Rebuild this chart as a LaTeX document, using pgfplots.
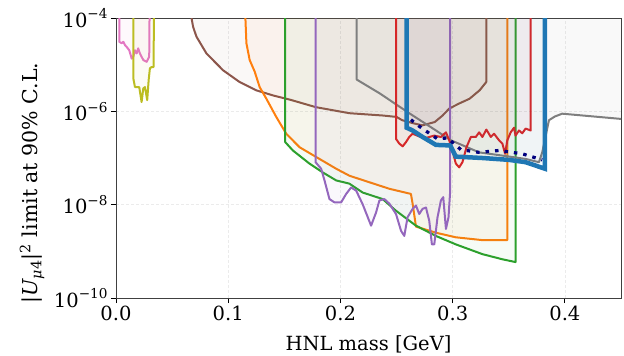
\documentclass[border=0pt]{standalone}
\usepackage{fontspec}
\setmainfont{DejaVu Serif}
\usepackage{pgfplots}
\pgfplotsset{compat=1.18}
\definecolor{tabblue}{HTML}{1F77B4}
\definecolor{taborange}{HTML}{FF7F0E}
\definecolor{tabgreen}{HTML}{2CA02C}
\definecolor{tabred}{HTML}{D62728}
\definecolor{tabpurple}{HTML}{9467BD}
\definecolor{tabbrown}{HTML}{8C564B}
\definecolor{tabpink}{HTML}{E377C2}
\definecolor{tabgray}{HTML}{7F7F7F}
\definecolor{tabolive}{HTML}{BCBD22}
\definecolor{navy}{RGB}{0,0,128}
\newcommand{\tenp}[1]{10\raisebox{0.42em}{\fontsize{13.6bp}{14bp}\selectfont #1}}
\begin{document}
\begin{tikzpicture}
\begin{axis}[
  scale only axis, width=505bp, height=280bp,
  xmin=0, xmax=0.45, ymin=1e-10, ymax=1e-4, ymode=log,
  xtick={0,0.1,0.2,0.3,0.4}, xticklabels={0.0,0.1,0.2,0.3,0.4},
  ytick={1e-10,1e-8,1e-6,1e-4},
  yticklabels={\tenp{−10},\tenp{−8},\tenp{−6},\tenp{−4}},
  yminorticks=false,
  tick pos=left, tick align=outside, major tick length=5bp,
  tick style={black, line width=0.8bp},
  axis line style={black!75, line width=0.9bp},
  grid=major, grid style={densely dashed, black!8, line width=0.6bp},
  every tick label/.append style={font=\fontsize{19.5bp}{23bp}\selectfont},
  label style={font=\fontsize{19.5bp}{23bp}\selectfont, inner sep=0pt},
  xlabel={HNL mass [GeV]},
  xlabel style={at={(axis description cs:0.5,-0.1321)}, anchor=north},
  ylabel={|\textit{U}\textsubscript{\textit{μ}4}|\textsuperscript{2} limit at 90\% C.L.},
  ylabel style={at={(axis description cs:-0.1663,0.41)}, anchor=center, rotate=0, font=\fontsize{20.5bp}{24bp}\selectfont},
  every axis plot/.append style={line width=2bp, line join=round, fill opacity=0.045, draw opacity=1},
]
% pink
\addplot[color=tabpink, fill=tabpink] coordinates {
(0.0029,1e-3) (0.0029,3.09e-5) (0.0051,2.88e-5) (0.0065,3.09e-5) (0.008,2.63e-5) (0.0095,2.40e-5)
(0.0118,2.04e-5) (0.014,1.35e-5) (0.0154,1.48e-5) (0.0169,2.04e-5) (0.0184,1.74e-5) (0.0198,2.24e-5)
(0.0213,1.74e-5) (0.0228,1.48e-5) (0.0243,1.26e-5) (0.0273,1.15e-5) (0.0296,1.48e-5) (0.0302,1e-3)
} -- cycle;
% olive
\addplot[color=tabolive, fill=tabolive] coordinates {
(0.0154,1e-3) (0.0154,5.13e-6) (0.0169,3.31e-6) (0.0184,3.31e-6) (0.0207,3.31e-6) (0.0228,1.58e-6)
(0.0243,3.09e-6) (0.0258,3.31e-6) (0.0278,1.74e-6) (0.0291,4.68e-6) (0.0302,8.32e-6) (0.0317,8.91e-6)
(0.0335,8.91e-6) (0.0340,1e-3)
} -- cycle;
% brown
\addplot[color=tabbrown, fill=tabbrown] coordinates {
(0.0673,1e-3) (0.0673,1e-4) (0.0687,6.46e-5) (0.0717,3.98e-5) (0.0806,1.74e-5) (0.0954,7.59e-6)
(0.110,4.27e-6) (0.125,2.82e-6) (0.140,2.19e-6) (0.155,1.78e-6) (0.178,1.23e-6) (0.208,9.12e-7)
(0.238,8.13e-7) (0.250,7.59e-7) (0.255,6.46e-7) (0.264,5.62e-7) (0.273,5.01e-7) (0.284,5.89e-7)
(0.291,8.13e-7) (0.297,1.15e-6) (0.306,1.48e-6) (0.315,1.86e-6) (0.324,2.82e-6) (0.330,4.27e-6)
(0.330,1e-3)
} -- cycle;
% orange
\addplot[color=taborange, fill=taborange] coordinates {
(0.1153,1e-3) (0.1153,1e-4) (0.1162,2.88e-5) (0.1191,1.26e-5) (0.1236,7.08e-6) (0.128,3.31e-6)
(0.134,1.86e-6) (0.1428,7.59e-7) (0.1517,3.31e-7) (0.1636,1.70e-7) (0.1784,1.05e-7) (0.1962,5.89e-8)
(0.208,4.17e-8) (0.2258,3.02e-8) (0.2436,2.19e-8) (0.2628,1.70e-8) (0.2643,1.05e-8) (0.2673,3.39e-9)
(0.285,2.51e-9) (0.3028,2.00e-9) (0.3265,1.74e-9) (0.3487,1.74e-9) (0.3487,1e-3)
} -- cycle;
% green
\addplot[color=tabgreen, fill=tabgreen] coordinates {
(0.1508,1e-3) (0.1508,2.19e-7) (0.1576,1.45e-7) (0.1724,7.59e-8) (0.1843,4.90e-8) (0.1962,3.31e-8)
(0.208,2.82e-8) (0.2198,1.82e-8) (0.2376,1.32e-8) (0.2495,7.41e-9) (0.2673,3.55e-9) (0.285,2.14e-9)
(0.3028,1.41e-9) (0.3265,8.71e-10) (0.3443,6.76e-10) (0.356,5.89e-10) (0.356,1e-3)
} -- cycle;
% purple
\addplot[color=tabpurple, fill=tabpurple] coordinates {
(0.1778,1e-3) (0.1778,8.13e-8) (0.1828,5.89e-8) (0.1858,3.31e-8) (0.1902,1.32e-8) (0.1947,1.12e-8)
(0.2006,1.12e-8) (0.2051,1.70e-8) (0.2095,2.34e-8) (0.214,2.00e-8) (0.2198,1.02e-8) (0.2273,3.55e-9)
(0.2317,6.76e-9) (0.2347,1.23e-8) (0.2391,1.32e-8) (0.2436,1.05e-8) (0.2495,6.31e-9) (0.254,2.75e-9)
(0.2569,2.14e-9) (0.2598,5.37e-9) (0.2643,8.13e-9) (0.2673,9.55e-9) (0.2702,6.31e-9) (0.2732,8.13e-9)
(0.2762,8.71e-9) (0.2791,4.57e-9) (0.2815,1.41e-9) (0.2836,1.41e-9) (0.2865,5.37e-9) (0.2895,1.23e-8)
(0.2916,1.45e-8) (0.294,3.02e-9) (0.2963,5.37e-9) (0.2978,2.00e-8) (0.2978,1e-3)
} -- cycle;
% gray
\addplot[color=tabgray, fill=tabgray] coordinates {
(0.2145,1e-3) (0.2145,4.79e-6) (0.2347,2.45e-6) (0.2613,9.12e-7) (0.2851,3.89e-7) (0.2984,2.40e-7)
(0.3236,1.32e-7) (0.3473,1.10e-7) (0.3651,9.55e-8) (0.3769,8.13e-8) (0.3798,1.32e-7) (0.3858,6.46e-7)
(0.3911,7.76e-7) (0.3976,8.91e-7) (0.4489,6.92e-7) (0.46,6.76e-7) (0.46,1e-3)
} -- cycle;
% red
\addplot[color=tabred, fill=tabred] coordinates {
(0.2495,1e-3) (0.2495,2.57e-7) (0.2524,2.04e-7) (0.2554,1.78e-7) (0.2584,2.19e-7) (0.2613,2.82e-7)
(0.2643,3.31e-7) (0.2747,2.63e-7) (0.2836,3.02e-7) (0.2895,2.82e-7) (0.294,3.55e-7) (0.2969,2.40e-7)
(0.2998,1.45e-7) (0.3028,7.59e-8) (0.3058,6.31e-8) (0.3087,8.13e-8) (0.3123,1.70e-7) (0.3162,2.82e-7)
(0.3206,2.82e-7) (0.3236,3.55e-7) (0.3265,2.82e-7) (0.33,4.07e-7) (0.334,2.82e-7) (0.3369,3.31e-7)
(0.3413,2.40e-7) (0.3443,2.04e-7) (0.3467,1.23e-7) (0.3487,2.40e-7) (0.3517,3.55e-7) (0.3547,4.47e-7)
(0.356,3.02e-7) (0.3591,3.89e-7) (0.362,3.39e-7) (0.365,4.27e-7) (0.3695,3.89e-7) (0.3695,1e-3)
} -- cycle;
% blue
\addplot[color=tabblue, fill=tabblue, line width=4.5bp, line join=miter] coordinates {
(0.2589,1e-3) (0.2589,4.47e-7) (0.2643,3.89e-7) (0.2732,2.82e-7) (0.2851,1.91e-7) (0.2978,1.86e-7)
(0.3028,1.07e-7) (0.3265,1.00e-7) (0.3502,9.12e-8) (0.3651,8.13e-8) (0.3822,5.89e-8) (0.3822,1e-3)
} -- cycle;
% navy dotted
\addplot[color=navy, line width=3.2bp, dash pattern=on 3.5bp off 6bp, line cap=butt, fill=none] coordinates {
(0.2628,6.61e-7) (0.2702,4.79e-7) (0.2791,3.39e-7) (0.2865,2.57e-7) (0.2954,2.69e-7) (0.3073,1.51e-7)
(0.3236,1.32e-7) (0.3413,1.45e-7) (0.362,1.23e-7) (0.3798,9.12e-8)
};
\end{axis}
\pgfresetboundingbox
\path[use as bounding box] ([shift={(-116bp,-57bp)}]current axis.south west) rectangle ([shift={(3bp,18bp)}]current axis.north east);
\end{tikzpicture}
\end{document}
